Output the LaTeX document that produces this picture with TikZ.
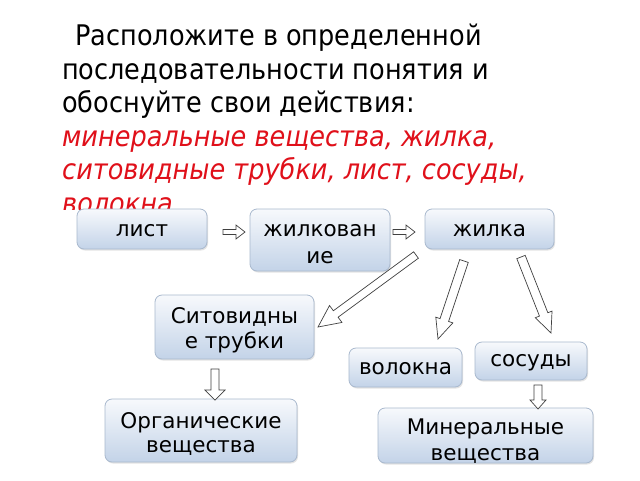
\documentclass[tikz,border=0pt]{standalone}
\usepackage{fontspec}
\setmainfont{DejaVu Sans}
\newfontfamily\titlefont[FakeStretch=0.9]{DejaVu Sans}
\usetikzlibrary{calc,shadows}
\definecolor{boxtop}{HTML}{F7F9FC}
\definecolor{boxbot}{HTML}{C3D3E8}
\definecolor{boxline}{HTML}{A9B9CE}
\definecolor{redtxt}{HTML}{E0101A}
\definecolor{arrline}{HTML}{404040}
\newcommand\blockarrow[5]{%
  \coordinate (bh) at ($(#2)!#5!(#1)$);
  \draw[arrsty] ($(#1)!#3!90:(#2)$) -- ($(bh)!#3!90:(#2)$) -- ($(bh)!#4!90:(#2)$) -- (#2)
     -- ($(bh)!#4!-90:(#2)$) -- ($(bh)!#3!-90:(#2)$) -- ($(#1)!#3!-90:(#2)$) -- cycle;}
\begin{document}
\begin{tikzpicture}[x=1pt,y=-1pt,
  titletxt/.style={anchor=base west,inner sep=0pt,font=\titlefont\fontsize{28.4}{34}\selectfont},
  redline/.style={titletxt,text=redtxt,font=\titlefont\fontsize{28.4}{34}\selectfont\itshape},
  boxsty/.style={draw=boxline,line width=0.8pt,rounded corners=7pt,top color=boxtop,bottom color=boxbot,
     drop shadow={shadow xshift=1pt,shadow yshift=-1.5pt,opacity=0.22},inner sep=0pt},
  boxtxt/.style={anchor=base,inner sep=0pt,font=\fontsize{21.5}{25}\selectfont},
  arrsty/.style={draw=arrline,line width=0.7pt,fill=white,line join=miter}]
\useasboundingbox (0,0) rectangle (640,480);
\fill[white] (0,0) rectangle (640,480);
% title
\node[titletxt] (t1) at (75,45.7) {Расположите в определенной};
\node[titletxt] (t2) at (62,79.2) {последовательности понятия и};
\node[titletxt] (t3) at (62,112.7) {обоснуйте свои действия:};
\node[redline] (t4) at (62,146.2) {минеральные вещества, жилка,};
\node[redline] (t5) at (62,179.9) {ситовидные трубки, лист, сосуды,};
\begin{scope}
\clip (0,0) rectangle (640,209);
\node[redline] (t6) at (62,213.5) {волокна};
\end{scope}
% boxes
\node[boxsty,minimum width=130pt,minimum height=40pt] (list) at (142,229) {};
\node[boxsty,minimum width=140pt,minimum height=62pt] (zhilkovanie) at (320,240) {};
\node[boxsty,minimum width=129pt,minimum height=40pt] (zhilka) at (489.5,229) {};
\node[boxsty,minimum width=159pt,minimum height=64pt] (sito) at (234.5,327) {};
\node[boxsty,minimum width=113pt,minimum height=39pt] (volokna) at (405.5,367.5) {};
\node[boxsty,minimum width=112pt,minimum height=38pt] (sosudy) at (531,361) {};
\node[boxsty,minimum width=192pt,minimum height=63pt] (organ) at (201,430.5) {};
\node[boxsty,minimum width=215pt,minimum height=55pt] (miner) at (485.5,435.5) {};
% box texts
\node[boxtxt] (listT) at (142,236) {лист};
\node[boxtxt] (zhkA) at (320,236) {жилкован};
\node[boxtxt] (zhkB) at (320,263) {ие};
\node[boxtxt] (zhilkaT) at (489.5,236) {жилка};
\node[boxtxt] (sitoA) at (234.5,323) {Ситовидны};
\node[boxtxt] (sitoB) at (234.5,348) {е трубки};
\node[boxtxt] (volT) at (405.5,374) {волокна};
\node[boxtxt] (sosT) at (531,366) {сосуды};
\node[boxtxt] (orgA) at (201,428) {Органические};
\node[boxtxt] (orgB) at (201,452) {вещества};
\node[boxtxt] (minA) at (485.5,434) {Минеральные};
\node[boxtxt] (minB) at (485.5,460) {вещества};
% arrow end points
\coordinate (a1s) at (223,232); \coordinate (a1e) at (245,232);
\coordinate (a2s) at (393,232); \coordinate (a2e) at (415,232);
\coordinate (a3s) at (416,255); \coordinate (a3e) at (318,327);
\coordinate (a4s) at (464,261); \coordinate (a4e) at (438,339);
\coordinate (a5s) at (521,257); \coordinate (a5e) at (551,333);
\coordinate (a6s) at (215,369); \coordinate (a6e) at (215,400);
\coordinate (a7s) at (538,385); \coordinate (a7e) at (538,409);
\blockarrow{a1s}{a1e}{2.5pt}{7pt}{9pt}
\blockarrow{a2s}{a2e}{2.5pt}{7pt}{9pt}
\blockarrow{a3s}{a3e}{4pt}{10.5pt}{22pt}
\blockarrow{a4s}{a4e}{4.5pt}{9pt}{20pt}
\blockarrow{a5s}{a5e}{4.5pt}{9pt}{20pt}
\blockarrow{a6s}{a6e}{4pt}{10pt}{10pt}
\blockarrow{a7s}{a7e}{4pt}{8pt}{9pt}
\end{tikzpicture}
\end{document}
